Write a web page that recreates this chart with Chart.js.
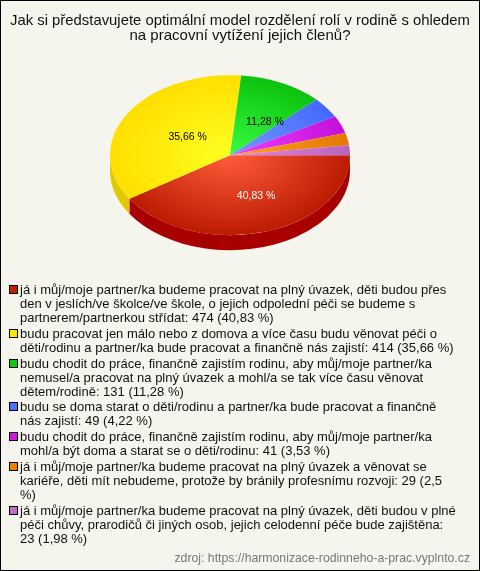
<!DOCTYPE html>
<html lang="cs">
<head>
  <meta charset="UTF-8">
  <title>Model rozdělení rolí v rodině</title>
  <script src="https://cdn.jsdelivr.net/npm/chart.js"></script>
  <style>
    html, body { margin: 0; padding: 0; background: #f5f5ee; }
    #wrap { position: relative; width: 480px; height: 571px; overflow: hidden; }
    #chart { position: absolute; left: 0; top: 0; }
    #frame { position: absolute; left: 0; top: 0; width: 480px; height: 571px; box-sizing: border-box; border: 1px solid #000; pointer-events: none; }
    #legend { position: absolute; left: 9px; top: 283px; width: 470px; font: 13px/14px "Liberation Sans", Arial, sans-serif; color: #111; }
    #legend div { position: relative; padding-left: 11px; margin-bottom: 1.8px; white-space: pre; }
    #legend i { position: absolute; left: 0; top: 2px; width: 7px; height: 7px; border: 1px solid #000; }
  </style>
</head>
<body>
  <div id="wrap">
    <canvas id="chart" width="480" height="571"></canvas>
    <div id="legend"></div>
    <div id="frame"></div>
  </div>

  <script>
    // Data
    const titleLines = [
      'Jak si představujete optimální model rozdělení rolí v rodině s ohledem',
      'na pracovní vytížení jejich členů?'
    ];
    const categories = [
      'já i můj/moje partner/ka budeme pracovat na plný úvazek, děti budou přes\nden v jeslích/ve školce/ve škole, o jejich odpolední péči se budeme s\npartnerem/partnerkou střídat: 474 (40,83 %)',
      'budu pracovat jen málo nebo z domova a více času budu věnovat péči o\nděti/rodinu a partner/ka bude pracovat a finančně nás zajistí: 414 (35,66 %)',
      'budu chodit do práce, finančně zajistím rodinu, aby můj/moje partner/ka\nnemusel/a pracovat na plný úvazek a mohl/a se tak více času věnovat\ndětem/rodině: 131 (11,28 %)',
      'budu se doma starat o děti/rodinu a partner/ka bude pracovat a finančně\nnás zajistí: 49 (4,22 %)',
      'budu chodit do práce, finančně zajistím rodinu, aby můj/moje partner/ka\nmohl/a být doma a starat se o děti/rodinu: 41 (3,53 %)',
      'já i můj/moje partner/ka budeme pracovat na plný úvazek a věnovat se\nkariéře, děti mít nebudeme, protože by bránily profesnímu rozvoji: 29 (2,5\n%)',
      'já i můj/moje partner/ka budeme pracovat na plný úvazek, děti budou v plné\npéči chůvy, prarodičů či jiných osob, jejich celodenní péče bude zajištěna:\n23 (1,98 %)'
    ];
    const values = [474, 414, 131, 49, 41, 29, 23];
    const sliceLabels = ['40,83 %', '35,66 %', '11,28 %', '', '', '', ''];
    const labelColors = ['#fff', '#000', '#000', '#000', '#000', '#000', '#000'];
    const source = 'zdroj: https://harmonizace-rodinneho-a-prac.vyplnto.cz';

    // Colours: centre of the gradient, rim of the gradient, side wall and legend swatch
    const innerColors = ['#ff5c3c', '#ffff22', '#38fb42', '#7399ff', '#f040ff', '#ffa226', '#e884e6'];
    const outerColors = ['#bb1c00', '#ffdf00', '#0cc20c', '#4468ff', '#c410d8', '#e47800', '#b864bc'];
    const sideColors = ['#a80000', '#e2c800', '#0a9a0a', '#3050c0', '#9a0cac', '#b86000', '#905094'];
    const swatchColors = ['#c41e00', '#ffe600', '#10c810', '#4a70ff', '#d018e0', '#f08000', '#c070c0'];

    const squash = 2 / 3;   // pie is drawn as an ellipse
    const depth = 15;       // height of the side wall in px
    const shiftX = -10;     // pie sits left of the page centre

    // Squash the pie and draw the side wall under it
    const pie3d = {
      id: 'pie3d',
      beforeDatasetsDraw(chart) {
        const ctx = chart.ctx;
        const arcs = chart.getDatasetMeta(0).data;
        const cx = arcs[0].x, cy = arcs[0].y;
        ctx.save();
        ctx.translate(cx + shiftX, cy);
        ctx.scale(1, squash);
        ctx.translate(-cx, -cy);
        arcs.forEach((arc, i) => {
          // only the front half of the rim can be seen
          const start = Math.max(arc.startAngle, 0);
          const end = Math.min(arc.endAngle, Math.PI);
          if (start >= end) return;
          ctx.fillStyle = sideColors[i];
          ctx.beginPath();
          ctx.arc(arc.x, arc.y, arc.outerRadius, start, end);
          ctx.arc(arc.x, arc.y + depth / squash, arc.outerRadius, end, start, true);
          ctx.closePath();
          ctx.fill();
        });
      },
      afterDatasetsDraw(chart) {
        chart.ctx.restore();
        // Percent labels on the big slices
        const ctx = chart.ctx;
        ctx.save();
        ctx.font = '10.5px "Liberation Sans", Arial, sans-serif';
        ctx.textAlign = 'center';
        ctx.textBaseline = 'middle';
        chart.getDatasetMeta(0).data.forEach((arc, i) => {
          if (!sliceLabels[i]) return;
          const mid = (arc.startAngle + arc.endAngle) / 2;
          const r = arc.outerRadius / 2;
          ctx.fillStyle = labelColors[i];
          ctx.fillText(sliceLabels[i], arc.x + shiftX + Math.cos(mid) * r + 9, arc.y + Math.sin(mid) * r * squash + 3);
        });
        ctx.restore();
      }
    };

    function sliceGradient(c) {
      const area = c.chart.chartArea;
      if (!area) return outerColors[c.dataIndex];
      const cx = (area.left + area.right) / 2, cy = (area.top + area.bottom) / 2;
      const g = c.chart.ctx.createRadialGradient(cx, cy, 0, cx, cy, 120);
      g.addColorStop(0, innerColors[c.dataIndex]);
      g.addColorStop(1, outerColors[c.dataIndex]);
      return g;
    }

    new Chart(document.getElementById('chart'), {
      type: 'pie',
      data: {
        labels: categories,
        datasets: [{
          data: values,
          backgroundColor: sliceGradient,
          borderWidth: 0
        }]
      },
      options: {
        responsive: false,
        animation: false,
        rotation: 90,
        radius: 120,
        layout: { padding: { left: 10, right: 10, top: 0, bottom: 0 } },
        plugins: {
          legend: { display: false },
          tooltip: { enabled: false },
          title: {
            display: true,
            text: titleLines,
            color: '#111',
            font: { family: '"Liberation Sans", Arial, sans-serif', size: 15, weight: 'normal', lineHeight: 1 },
            padding: { top: 13, bottom: 4 }
          },
          subtitle: {
            display: true,
            position: 'bottom',
            align: 'end',
            text: source,
            color: '#777',
            font: { family: '"Liberation Sans", Arial, sans-serif', size: 12.25, weight: 'normal' },
            padding: { top: 288, bottom: 5 }
          }
        }
      },
      plugins: [pie3d]
    });

    // HTML legend, the stock one cannot wrap long labels on the bottom
    const legendEl = document.getElementById('legend');
    categories.forEach((text, i) => {
      const row = document.createElement('div');
      const box = document.createElement('i');
      box.style.background = swatchColors[i];
      row.appendChild(box);
      row.appendChild(document.createTextNode(text));
      legendEl.appendChild(row);
    });
  </script>
</body>
</html>
